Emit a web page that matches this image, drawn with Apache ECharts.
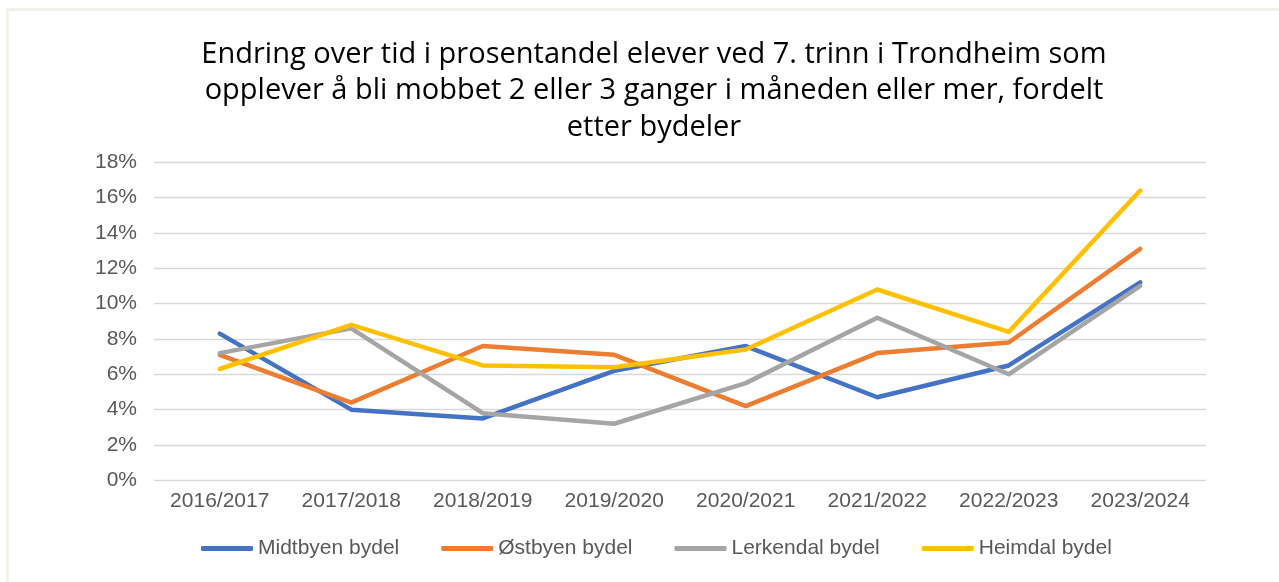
<!DOCTYPE html>
<html>
<head>
<meta charset="utf-8">
<script src="https://cdn.jsdelivr.net/npm/echarts@6/dist/echarts.min.js"></script>
<style>
html,body{margin:0;padding:0;background:#fff;}
#c{width:1279px;height:582px;}
</style>
</head>
<body>
<div id="c"></div>
<script>
const categories = ['2016/2017','2017/2018','2018/2019','2019/2020','2020/2021','2021/2022','2022/2023','2023/2024'];
const seriesNames = ['Midtbyen bydel','Østbyen bydel','Lerkendal bydel','Heimdal bydel'];
const midtbyen = [8.3, 4.0, 3.5, 6.2, 7.6, 4.7, 6.5, 11.2];
const ostbyen = [7.1, 4.4, 7.6, 7.1, 4.2, 7.2, 7.8, 13.1];
const lerkendal = [7.2, 8.6, 3.8, 3.2, 5.5, 9.2, 6.0, 11.0];
const heimdal = [6.3, 8.8, 6.5, 6.4, 7.4, 10.8, 8.4, 16.4];
const colors = ['#4472C4','#ED7D31','#A5A5A5','#FFC000'];
const titleText = 'Endring over tid i prosentandel elever ved 7. trinn i Trondheim som\nopplever å bli mobbet 2 eller 3 ganger i måneden eller mer, fordelt\netter bydeler';

const chart = echarts.init(document.getElementById('c'), null, {renderer:'canvas'});
const dataSets = [midtbyen, ostbyen, lerkendal, heimdal];
chart.setOption({
  backgroundColor:'#ffffff',
  animation:false,
  color: colors,
  title:{
    text: titleText,
    left:649,
    textAlign:'center',
    top:31,
    textStyle:{fontFamily:'Open Sans', fontSize:29, fontWeight:'normal', color:'#000000', lineHeight:36.5}
  },
  graphic:[
    {type:'rect', shape:{x:6,y:8,width:1273,height:3}, style:{fill:'#f4f1e8'}},
    {type:'rect', shape:{x:6,y:8,width:3,height:574}, style:{fill:'#f4f1e8'}}
  ],
  grid:{left:154, right:73, top:162.3, bottom:101.7},
  xAxis:{
    type:'category',
    data: categories,
    boundaryGap:true,
    axisLine:{show:false},
    axisTick:{show:false},
    axisLabel:{color:'#595959', fontFamily:'Liberation Sans', fontSize:21, margin:10}
  },
  yAxis:{
    type:'value',
    min:0, max:18, interval:2,
    axisLine:{show:false},
    axisTick:{show:false},
    axisLabel:{color:'#595959', fontFamily:'Liberation Sans', fontSize:21, margin:17, formatter:'{value}%'},
    splitLine:{lineStyle:{color:'#d9d9d9', width:1.3}}
  },
  legend:{
    top:533,
    left:196,
    itemWidth:52,
    itemHeight:5,
    itemGap:42,
    icon:'roundRect',
    textStyle:{color:'#595959', fontFamily:'Liberation Sans', fontSize:21},
    data: seriesNames
  },
  series: seriesNames.map((n,i)=>({
    name:n,
    type:'line',
    data:dataSets[i],
    symbol:'none',
    lineStyle:{width:4.5, color:colors[i], cap:'round', join:'round'},
    itemStyle:{color:colors[i]}
  }))
});
</script>
</body>
</html>
